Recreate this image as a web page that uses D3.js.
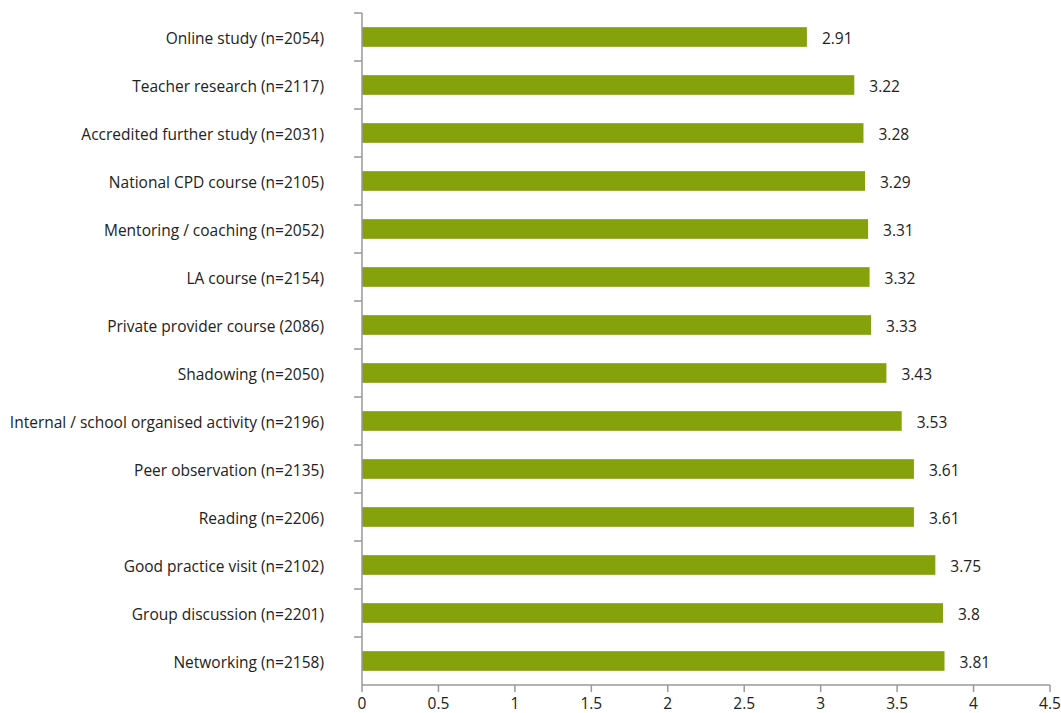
<!DOCTYPE html>
<html>
<head>
<meta charset="utf-8">
<script src="https://cdn.jsdelivr.net/npm/d3@7"></script>
<style>
  body { margin: 0; background: #fff; }
  text { font-family: "Open Sans", "Noto Sans", sans-serif; fill: #222; }
</style>
</head>
<body>
<div id="chart"></div>
<script>
// Categories top to bottom and their mean scores
var categories = [
    "Online study (n=2054)",
    "Teacher research (n=2117)",
    "Accredited further study (n=2031)",
    "National CPD course (n=2105)",
    "Mentoring / coaching (n=2052)",
    "LA course (n=2154)",
    "Private provider course (2086)",
    "Shadowing (n=2050)",
    "Internal / school organised activity (n=2196)",
    "Peer observation (n=2135)",
    "Reading (n=2206)",
    "Good practice visit (n=2102)",
    "Group discussion (n=2201)",
    "Networking (n=2158)"
];
var values = [2.91, 3.22, 3.28, 3.29, 3.31, 3.32, 3.33, 3.43, 3.53, 3.61, 3.61, 3.75, 3.8, 3.81];
var xTicks = [0, 0.5, 1, 1.5, 2, 2.5, 3, 3.5, 4, 4.5];

var w = 1061;
var h = 713;
var plotLeft = 362, plotRight = 1050, plotTop = 13, plotBottom = 685;
var fontSize = "15.5px";

var svg = d3.select("#chart")
    .append("svg")
    .attr("width", w)
    .attr("height", h);

var x = d3.scaleLinear()
    .domain([0, 4.5])
    .range([plotLeft, plotRight]);

var y = d3.scaleBand()
    .domain(categories)
    .range([plotTop, plotBottom])
    .paddingInner(0.59)
    .paddingOuter(0.295);

// bars
svg.selectAll("rect.bar")
    .data(values)
    .enter()
    .append("rect")
    .attr("class", "bar")
    .attr("x", x(0))
    .attr("y", (d, i) => y(categories[i]))
    .attr("width", (d) => x(d) - x(0))
    .attr("height", y.bandwidth())
    .style("fill", "#86a20b");

// value labels
svg.selectAll("text.val")
    .data(values)
    .enter()
    .append("text")
    .attr("class", "val")
    .attr("x", (d) => x(d) + 15)
    .attr("y", (d, i) => y(categories[i]) + y.bandwidth() / 2)
    .attr("dy", "0.45em")
    .style("font-size", fontSize)
    .text((d) => d);

// left axis line and boundary ticks
var step = (plotBottom - plotTop) / categories.length;
var axisColor = "#999";
svg.append("line")
    .attr("x1", plotLeft).attr("x2", plotLeft)
    .attr("y1", plotTop).attr("y2", plotBottom)
    .style("stroke", axisColor).style("stroke-width", 1.5);

svg.selectAll("line.ytick")
    .data(d3.range(categories.length))
    .enter()
    .append("line")
    .attr("class", "ytick")
    .attr("x1", plotLeft - 8).attr("x2", plotLeft)
    .attr("y1", (d) => plotTop + d * step)
    .attr("y2", (d) => plotTop + d * step)
    .style("stroke", axisColor).style("stroke-width", 1.5);

// category labels
svg.selectAll("text.cat")
    .data(categories)
    .enter()
    .append("text")
    .attr("class", "cat")
    .attr("x", plotLeft - 38)
    .attr("y", (d) => y(d) + y.bandwidth() / 2)
    .attr("dy", "0.45em")
    .attr("text-anchor", "end")
    .style("font-size", fontSize)
    .text((d) => d);

// bottom axis
svg.append("line")
    .attr("x1", plotLeft).attr("x2", plotRight)
    .attr("y1", plotBottom).attr("y2", plotBottom)
    .style("stroke", axisColor).style("stroke-width", 1.5);

svg.selectAll("line.xtick")
    .data(xTicks)
    .enter()
    .append("line")
    .attr("class", "xtick")
    .attr("x1", (d) => x(d)).attr("x2", (d) => x(d))
    .attr("y1", plotBottom).attr("y2", plotBottom + 7)
    .style("stroke", axisColor).style("stroke-width", 1.5);

svg.selectAll("text.xlab")
    .data(xTicks)
    .enter()
    .append("text")
    .attr("class", "xlab")
    .attr("x", (d) => x(d))
    .attr("y", plotBottom + 19)
    .attr("dy", "0.35em")
    .attr("text-anchor", "middle")
    .style("font-size", fontSize)
    .text((d) => d);
</script>
</body>
</html>
